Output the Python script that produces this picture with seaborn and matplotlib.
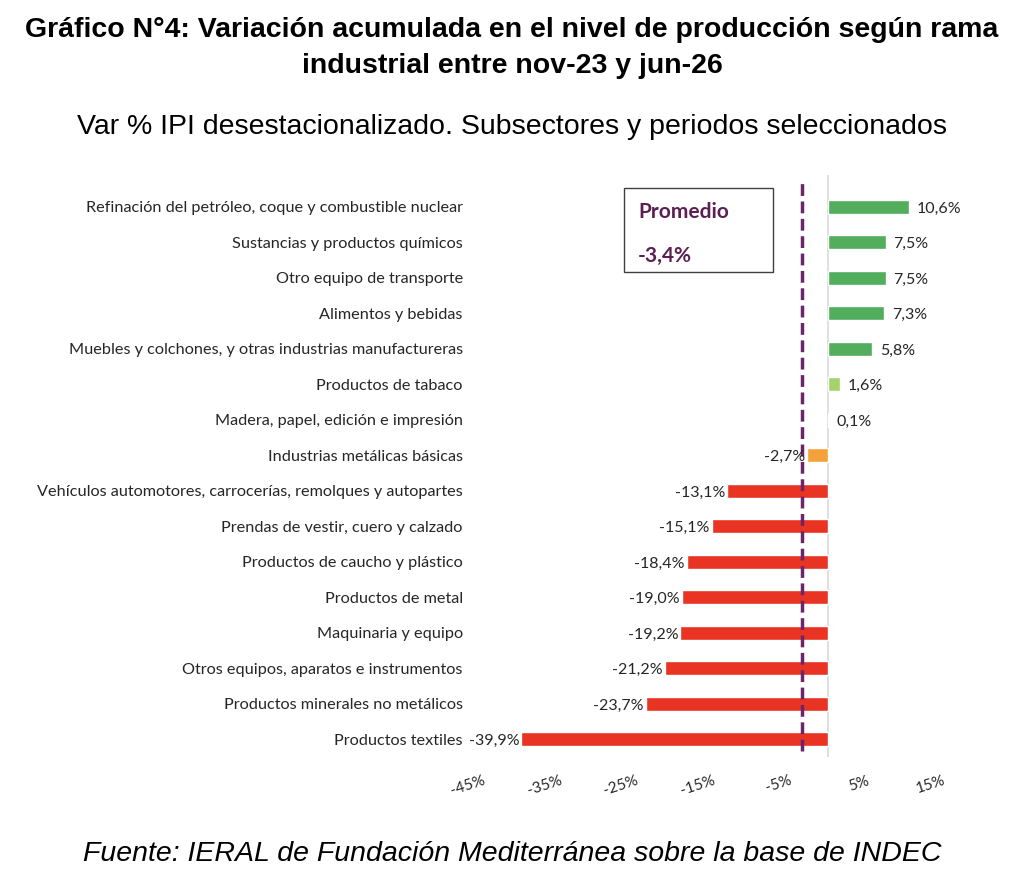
import numpy as np
import pandas as pd
import seaborn as sns
from matplotlib import pyplot as plt
from matplotlib.patches import Rectangle

ramas = [
    "Refinación del petróleo, coque y combustible nuclear",
    "Sustancias y productos químicos",
    "Otro equipo de transporte",
    "Alimentos y bebidas",
    "Muebles y colchones, y otras industrias manufactureras",
    "Productos de tabaco",
    "Madera, papel, edición e impresión",
    "Industrias metálicas básicas",
    "Vehículos automotores, carrocerías, remolques y autopartes",
    "Prendas de vestir, cuero y calzado",
    "Productos de caucho y plástico",
    "Productos de metal",
    "Maquinaria y equipo",
    "Otros equipos, aparatos e instrumentos",
    "Productos minerales no metálicos",
    "Productos textiles",
]
variacion = [10.6, 7.5, 7.5, 7.3, 5.8, 1.6, 0.1, -2.7, -13.1, -15.1, -18.4, -19.0, -19.2, -21.2, -23.7, -39.9]
promedio = -3.4
x_ticks = [-45, -35, -25, -15, -5, 5, 15]


def color_for(v):
    if v >= 2:
        return "#52ae5c"
    if v >= 0:
        return "#a3d36a"
    if v > -5:
        return "#f3a23b"
    return "#e93323"


df = pd.DataFrame({"rama": ramas, "var": variacion})
palette = {r: color_for(v) for r, v in zip(ramas, variacion)}

sns.set_style("white")
plt.rcParams["font.family"] = ["Liberation Sans", "DejaVu Sans"]
label_font = ["Lato", "DejaVu Sans"]

fig = plt.figure(figsize=(10.24, 8.74), dpi=100)
ax = fig.add_axes([0.471, 0.134, 0.45, 0.666])

sns.barplot(data=df, x="var", y="rama", hue="rama", palette=palette, legend=False,
            width=0.4, ax=ax, saturation=1)

ax.set_xlim(-45, 15)
ax.set_ylim(15.5, -0.9)
ax.axvline(0, color="#d9d9d9", lw=1.2, zorder=0)
ax.axvline(promedio, color="#6b256b", lw=2.5, ls=(0, (3.4, 1.6)), ymin=0.01, ymax=0.99, zorder=3)

for i, v in enumerate(variacion):
    txt = f"{v:.1f}%".replace(".", ",")
    if v >= 0:
        ax.text(v + 1.0, i + 0.06, txt, va="center", ha="left", fontsize=11.5, color="#262626",
                family=label_font)
    else:
        ax.text(v - 0.3, i + 0.06, txt, va="center", ha="right", fontsize=11.5, color="#262626",
                family=label_font)

ax.set_xticks(x_ticks)
ax.set_xticklabels([f"{t}%" for t in x_ticks], rotation=18, ha="right", rotation_mode="anchor",
                   fontsize=11, color="#262626", family=label_font)
ax.tick_params(axis="x", length=0, pad=12)
ax.tick_params(axis="y", length=0, pad=14)
for lab in ax.get_yticklabels():
    lab.set_fontsize(11.7)
    lab.set_color("#262626")
    lab.set_family(label_font)
ax.set_xlabel("")
ax.set_ylabel("")
sns.despine(ax=ax, left=True, bottom=True)

# recuadro promedio
box = Rectangle((624 / 1024, 1 - 272 / 874), 149 / 1024, 84 / 874, transform=fig.transFigure,
                fill=False, edgecolor="#404040", lw=1)
fig.add_artist(box)
fig.text(638 / 1024, 1 - 212 / 874, "Promedio", fontsize=15, fontweight="bold", color="#5b1f52",
         va="center", ha="left", family=label_font)
fig.text(638 / 1024, 1 - 256 / 874, f"{promedio:.1f}%".replace(".", ","), fontsize=15,
         fontweight="bold", color="#5b1f52", va="center", ha="left", family=label_font)

fig.text(0.5, 1 - 30 / 874, "Gráfico N°4: Variación acumulada en el nivel de producción según rama",
         ha="center", va="center", fontsize=20.5, fontweight="bold", color="black")
fig.text(0.5, 1 - 66 / 874, "industrial entre nov-23 y jun-26",
         ha="center", va="center", fontsize=20.5, fontweight="bold", color="black")
fig.text(0.5, 1 - 127 / 874, "Var % IPI desestacionalizado. Subsectores y periodos seleccionados",
         ha="center", va="center", fontsize=20.5, color="black")
fig.text(0.5, 1 - 854 / 874, "Fuente: IERAL de Fundación Mediterránea sobre la base de INDEC",
         ha="center", va="center", fontsize=20.5, style="italic", color="black")

fig.savefig("out.png", dpi=100)
